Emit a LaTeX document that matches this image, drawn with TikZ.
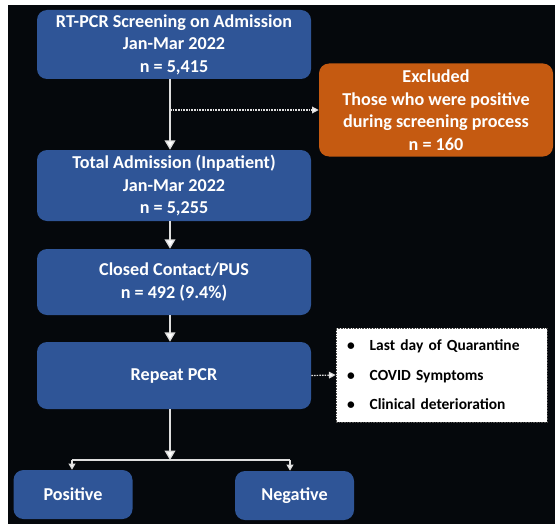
\documentclass[tikz,border=0pt]{standalone}
\usepackage{fontspec}
\setmainfont{Carlito}
\usetikzlibrary{arrows.meta,calc}
\definecolor{bgblack}{RGB}{5,8,12}
\definecolor{boxblue}{RGB}{47,85,151}
\definecolor{boxorange}{RGB}{197,90,17}
\definecolor{linegrey}{RGB}{222,222,222}
\begin{document}
\begin{tikzpicture}[x=0.75pt,y=-0.75pt,
  boxtext/.style={text=white,font=\fontsize{13.6}{16.9}\selectfont\bfseries,align=center,inner sep=0pt},
  bluebox/.style={boxtext,fill=boxblue,rounded corners=7.5pt},
  orangebox/.style={boxtext,fill=boxorange,rounded corners=7.5pt},
  listbox/.style={fill=white,draw=black!70,dash pattern=on 1.2pt off 0.8pt,line width=0.6pt,
    font=\fontsize{11.6}{22.1}\selectfont\bfseries,align=left,text=black,
    inner xsep=8.25pt,inner ysep=0pt,text width=141.75pt,minimum height=70.5pt},
  mainarrow/.style={draw=linegrey,line width=1pt,-{Triangle[width=8pt,length=7pt,fill=white]}},
  smallarrow/.style={draw=linegrey,line width=1pt,-{Triangle[width=5pt,length=4.5pt,fill=white]}},
  dotarrow/.style={draw=linegrey,line width=0.9pt,dash pattern=on 1.2pt off 0.8pt,-{Triangle[width=5pt,length=5pt,fill=white]}},
  plainline/.style={draw=linegrey,line width=1pt}
]
\useasboundingbox (0,0) rectangle (555,524);
\fill[white] (0,0) rectangle (555,524);
\fill[bgblack] (8,5) rectangle (555,524);

\node[bluebox,minimum width=205.5pt,minimum height=51.75pt] (b1) at (174,44.5)
  {RT-PCR Screening on Admission\\Jan-Mar 2022\\n = 5,415};
\node[bluebox,minimum width=205.5pt,minimum height=53.25pt] (b2) at (174,185.5)
  {Total Admission (Inpatient)\\Jan-Mar 2022\\n = 5,255};
\node[bluebox,minimum width=205.5pt,minimum height=49.5pt] (b3) at (174,282)
  {Closed Contact/PUS\\n = 492 (9.4\%)};
\node[bluebox,minimum width=205.5pt,minimum height=50.25pt] (b4) at (174,375.5)
  {Repeat PCR};
\node[orangebox,minimum width=175.5pt,minimum height=69.75pt] (ex) at (436,110)
  {Excluded\\Those who were positive\\during screening process\\n = 160};
\node[listbox] (ls) at (441.5,375)
  {\makebox[17pt][l]{\textbullet}Last day of Quarantine\\
   \makebox[17pt][l]{\textbullet}COVID Symptoms\\
   \makebox[17pt][l]{\textbullet}Clinical deterioration};
\node[bluebox,minimum width=89.25pt,minimum height=36.75pt] (pos) at (73,494.5) {Positive};
\node[bluebox,minimum width=89.25pt,minimum height=36.75pt] (neg) at (294.5,495.5) {Negative};

\coordinate (ax) at (170,0);
\coordinate (br) at (170,460);
\coordinate (brl) at (72,460);
\coordinate (brr) at (290,460);

\draw[mainarrow] (b1.south -| ax) -- (b2.north -| ax);
\draw[dotarrow] (ex.west -| ax) -- (ex.west);
\draw[mainarrow] (b2.south -| ax) -- (b3.north -| ax);
\draw[mainarrow] (b3.south -| ax) -- (b4.north -| ax);
\draw[dotarrow] (b4.east) -- (ls.west);
\draw[mainarrow] (b4.south -| ax) -- (br);
\draw[plainline] (brl) -- (brr);
\draw[smallarrow] (brl) -- (pos.north -| brl);
\draw[smallarrow] (brr) -- (neg.north -| brr);
\end{tikzpicture}
\end{document}
